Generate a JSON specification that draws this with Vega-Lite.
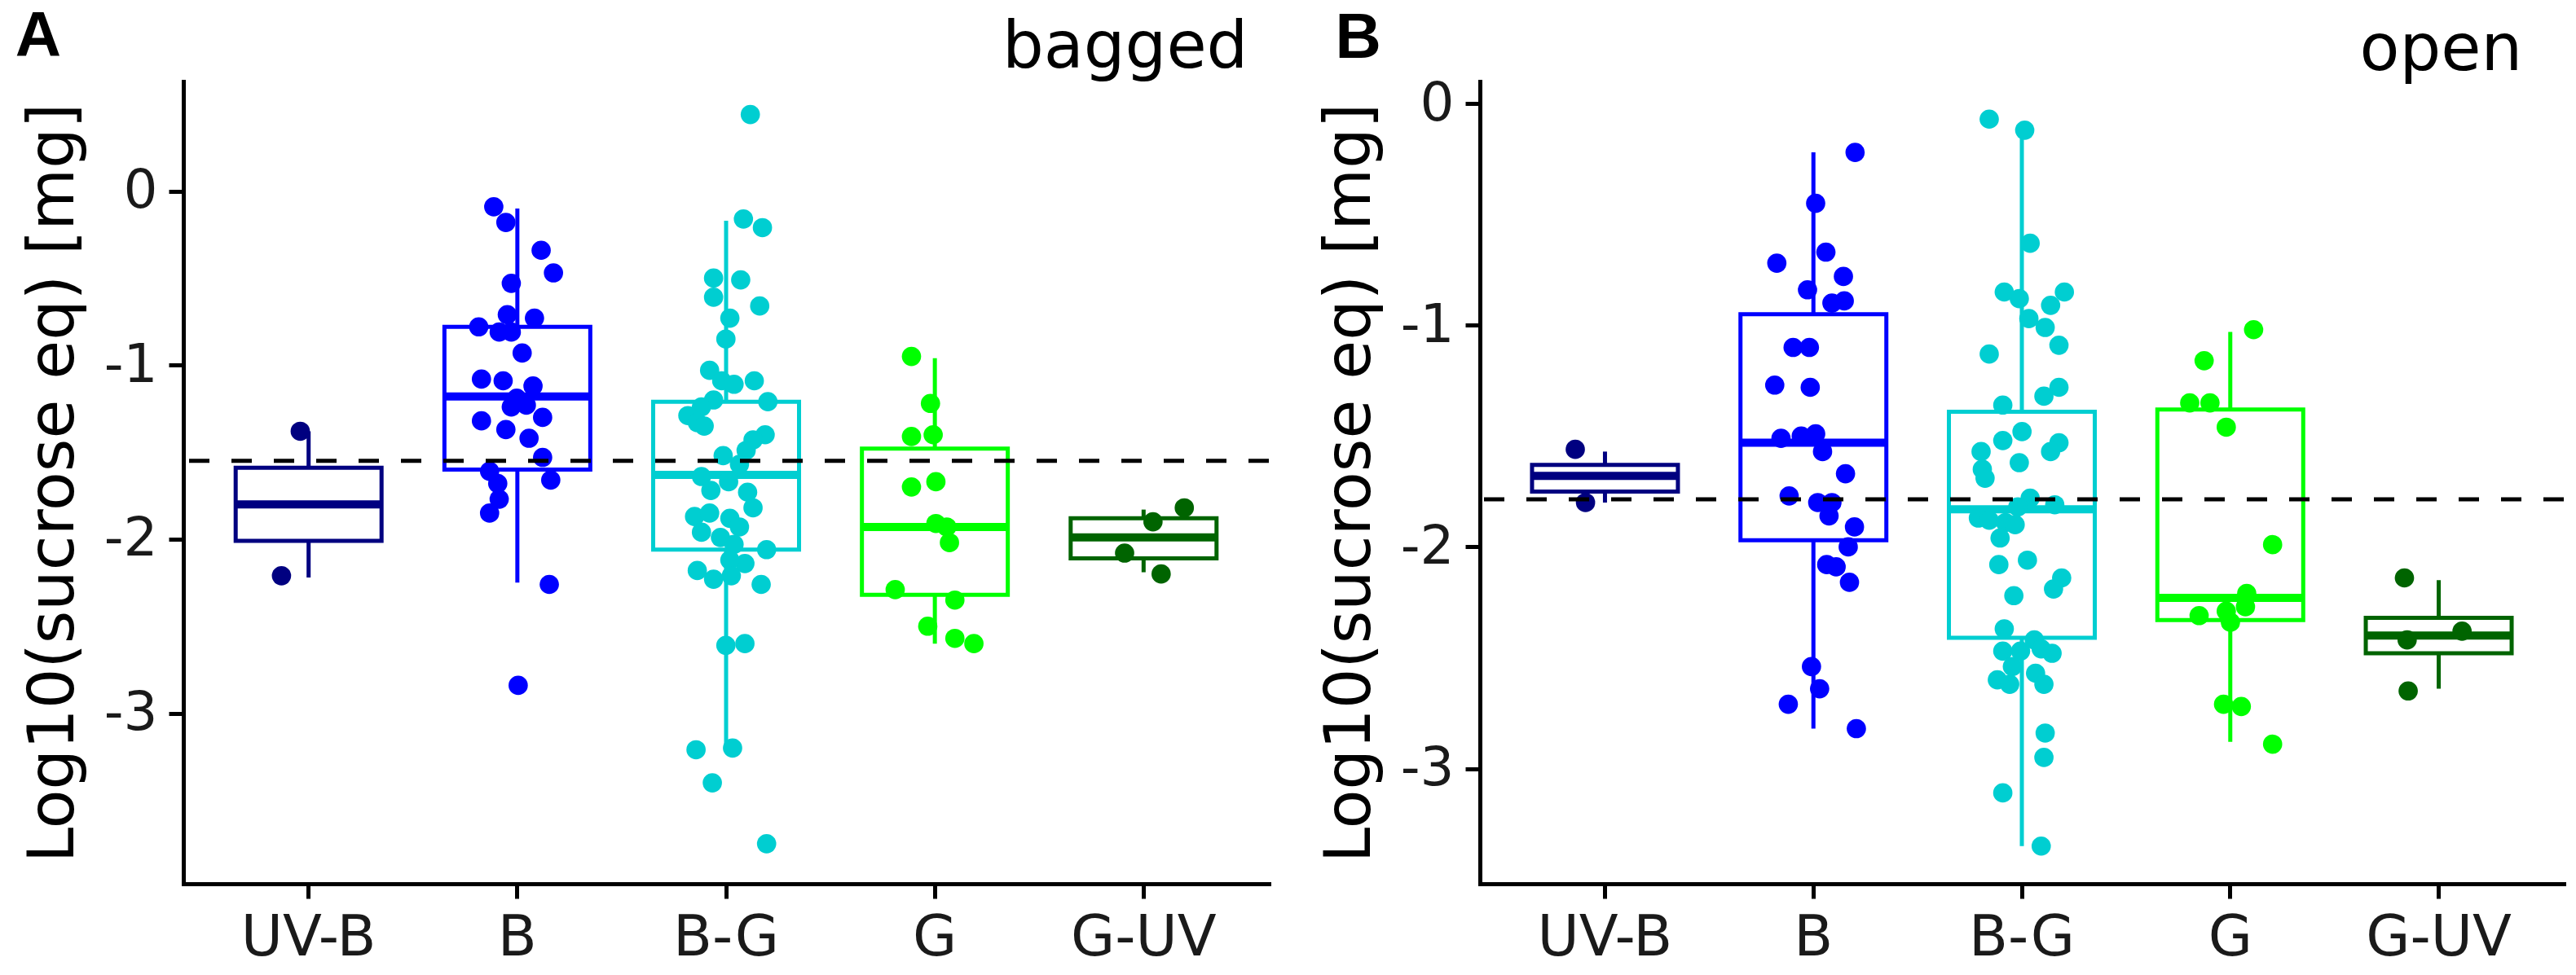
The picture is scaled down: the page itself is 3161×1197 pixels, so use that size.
{
  "$schema": "https://vega.github.io/schema/vega-lite/v6.json",
  "background": "white",
  "padding": {"left": 18, "top": 7, "right": 20, "bottom": 2},
  "spacing": 58,
  "config": {
    "font": "DejaVu Sans",
    "view": {"stroke": null},
    "axis": {
      "grid": false,
      "domainColor": "black",
      "domainWidth": 5,
      "domainCap": "square",
      "tickColor": "black",
      "tickWidth": 5,
      "tickSize": 18,
      "labelColor": "#1a1a1a",
      "labelFont": "DejaVu Sans",
      "labelLimit": 600,
      "titleFont": "DejaVu Sans",
      "titleColor": "black",
      "titleFontWeight": "normal"
    },
    "axisX": {"labelFontSize": 70, "labelPadding": 14, "labelAngle": 0},
    "axisY": {"labelFontSize": 66, "labelPadding": 14, "titleFontSize": 78, "titlePadding": 22}
  },
  "datasets": {
    "stats": [
      {"panel": "A", "group": "UV-B", "lo": -2.22, "q1": -2.01, "med": -1.80, "q3": -1.59, "hi": -1.38},
      {"panel": "A", "group": "B", "lo": -2.25, "q1": -1.60, "med": -1.18, "q3": -0.78, "hi": -0.10},
      {"panel": "A", "group": "B-G", "lo": -3.20, "q1": -2.06, "med": -1.63, "q3": -1.21, "hi": -0.17},
      {"panel": "A", "group": "G", "lo": -2.60, "q1": -2.32, "med": -1.93, "q3": -1.48, "hi": -0.96},
      {"panel": "A", "group": "G-UV", "lo": -2.19, "q1": -2.11, "med": -1.99, "q3": -1.88, "hi": -1.83},
      {"panel": "B", "group": "UV-B", "lo": -1.80, "q1": -1.75, "med": -1.68, "q3": -1.63, "hi": -1.57},
      {"panel": "B", "group": "B", "lo": -2.82, "q1": -1.97, "med": -1.53, "q3": -0.95, "hi": -0.22},
      {"panel": "B", "group": "B-G", "lo": -3.35, "q1": -2.41, "med": -1.83, "q3": -1.39, "hi": -0.12},
      {"panel": "B", "group": "G", "lo": -2.88, "q1": -2.33, "med": -2.23, "q3": -1.38, "hi": -1.03},
      {"panel": "B", "group": "G-UV", "lo": -2.64, "q1": -2.48, "med": -2.40, "q3": -2.32, "hi": -2.15}
    ],
    "points": [
      {"panel": "A", "group": "UV-B", "value": -1.38, "jitter": -0.04},
      {"panel": "A", "group": "UV-B", "value": -2.21, "jitter": -0.13},
      {"panel": "A", "group": "B", "value": -0.09, "jitter": -0.113},
      {"panel": "A", "group": "B", "value": -0.18, "jitter": -0.055},
      {"panel": "A", "group": "B", "value": -0.34, "jitter": 0.114},
      {"panel": "A", "group": "B", "value": -0.47, "jitter": 0.173},
      {"panel": "A", "group": "B", "value": -0.53, "jitter": -0.029},
      {"panel": "A", "group": "B", "value": -0.71, "jitter": -0.048},
      {"panel": "A", "group": "B", "value": -0.73, "jitter": 0.082},
      {"panel": "A", "group": "B", "value": -0.78, "jitter": -0.185},
      {"panel": "A", "group": "B", "value": -0.81, "jitter": -0.087},
      {"panel": "A", "group": "B", "value": -0.81, "jitter": -0.029},
      {"panel": "A", "group": "B", "value": -0.93, "jitter": 0.023},
      {"panel": "A", "group": "B", "value": -1.08, "jitter": -0.172},
      {"panel": "A", "group": "B", "value": -1.09, "jitter": -0.068},
      {"panel": "A", "group": "B", "value": -1.12, "jitter": 0.075},
      {"panel": "A", "group": "B", "value": -1.19, "jitter": -0.003},
      {"panel": "A", "group": "B", "value": -1.24, "jitter": -0.029},
      {"panel": "A", "group": "B", "value": -1.23, "jitter": 0.043},
      {"panel": "A", "group": "B", "value": -1.30, "jitter": 0.121},
      {"panel": "A", "group": "B", "value": -1.32, "jitter": -0.172},
      {"panel": "A", "group": "B", "value": -1.37, "jitter": -0.055},
      {"panel": "A", "group": "B", "value": -1.42, "jitter": 0.056},
      {"panel": "A", "group": "B", "value": -1.53, "jitter": 0.121},
      {"panel": "A", "group": "B", "value": -1.61, "jitter": -0.133},
      {"panel": "A", "group": "B", "value": -1.68, "jitter": -0.094},
      {"panel": "A", "group": "B", "value": -1.66, "jitter": 0.160},
      {"panel": "A", "group": "B", "value": -1.77, "jitter": -0.087},
      {"panel": "A", "group": "B", "value": -1.85, "jitter": -0.133},
      {"panel": "A", "group": "B", "value": -2.26, "jitter": 0.153},
      {"panel": "A", "group": "B", "value": -2.84, "jitter": 0.004},
      {"panel": "A", "group": "B-G", "value": 0.44, "jitter": 0.116},
      {"panel": "A", "group": "B-G", "value": -0.16, "jitter": 0.083},
      {"panel": "A", "group": "B-G", "value": -0.21, "jitter": 0.174},
      {"panel": "A", "group": "B-G", "value": -0.50, "jitter": -0.060},
      {"panel": "A", "group": "B-G", "value": -0.51, "jitter": 0.070},
      {"panel": "A", "group": "B-G", "value": -0.61, "jitter": -0.060},
      {"panel": "A", "group": "B-G", "value": -0.66, "jitter": 0.161},
      {"panel": "A", "group": "B-G", "value": -0.73, "jitter": 0.018},
      {"panel": "A", "group": "B-G", "value": -0.85, "jitter": -0.001},
      {"panel": "A", "group": "B-G", "value": -1.03, "jitter": -0.079},
      {"panel": "A", "group": "B-G", "value": -1.09, "jitter": -0.021},
      {"panel": "A", "group": "B-G", "value": -1.11, "jitter": 0.038},
      {"panel": "A", "group": "B-G", "value": -1.09, "jitter": 0.135},
      {"panel": "A", "group": "B-G", "value": -1.21, "jitter": 0.200},
      {"panel": "A", "group": "B-G", "value": -1.20, "jitter": -0.060},
      {"panel": "A", "group": "B-G", "value": -1.24, "jitter": -0.118},
      {"panel": "A", "group": "B-G", "value": -1.29, "jitter": -0.183},
      {"panel": "A", "group": "B-G", "value": -1.33, "jitter": -0.138},
      {"panel": "A", "group": "B-G", "value": -1.35, "jitter": -0.105},
      {"panel": "A", "group": "B-G", "value": -1.40, "jitter": 0.187},
      {"panel": "A", "group": "B-G", "value": -1.43, "jitter": 0.129},
      {"panel": "A", "group": "B-G", "value": -1.49, "jitter": 0.096},
      {"panel": "A", "group": "B-G", "value": -1.52, "jitter": -0.014},
      {"panel": "A", "group": "B-G", "value": -1.57, "jitter": 0.064},
      {"panel": "A", "group": "B-G", "value": -1.64, "jitter": -0.118},
      {"panel": "A", "group": "B-G", "value": -1.72, "jitter": -0.073},
      {"panel": "A", "group": "B-G", "value": -1.67, "jitter": 0.012},
      {"panel": "A", "group": "B-G", "value": -1.73, "jitter": 0.103},
      {"panel": "A", "group": "B-G", "value": -1.82, "jitter": 0.129},
      {"panel": "A", "group": "B-G", "value": -1.87, "jitter": -0.151},
      {"panel": "A", "group": "B-G", "value": -1.85, "jitter": -0.079},
      {"panel": "A", "group": "B-G", "value": -1.88, "jitter": 0.018},
      {"panel": "A", "group": "B-G", "value": -1.93, "jitter": 0.064},
      {"panel": "A", "group": "B-G", "value": -1.96, "jitter": -0.118},
      {"panel": "A", "group": "B-G", "value": -1.99, "jitter": -0.027},
      {"panel": "A", "group": "B-G", "value": -2.03, "jitter": 0.038},
      {"panel": "A", "group": "B-G", "value": -2.06, "jitter": 0.194},
      {"panel": "A", "group": "B-G", "value": -2.14, "jitter": 0.090},
      {"panel": "A", "group": "B-G", "value": -2.12, "jitter": 0.018},
      {"panel": "A", "group": "B-G", "value": -2.18, "jitter": -0.138},
      {"panel": "A", "group": "B-G", "value": -2.23, "jitter": -0.060},
      {"panel": "A", "group": "B-G", "value": -2.21, "jitter": 0.025},
      {"panel": "A", "group": "B-G", "value": -2.26, "jitter": 0.168},
      {"panel": "A", "group": "B-G", "value": -2.61, "jitter": -0.001},
      {"panel": "A", "group": "B-G", "value": -2.60, "jitter": 0.090},
      {"panel": "A", "group": "B-G", "value": -3.21, "jitter": -0.144},
      {"panel": "A", "group": "B-G", "value": -3.20, "jitter": 0.031},
      {"panel": "A", "group": "B-G", "value": -3.40, "jitter": -0.066},
      {"panel": "A", "group": "B-G", "value": -3.75, "jitter": 0.194},
      {"panel": "A", "group": "G", "value": -0.95, "jitter": -0.112},
      {"panel": "A", "group": "G", "value": -1.22, "jitter": -0.021},
      {"panel": "A", "group": "G", "value": -1.41, "jitter": -0.112},
      {"panel": "A", "group": "G", "value": -1.40, "jitter": -0.008},
      {"panel": "A", "group": "G", "value": -1.70, "jitter": -0.112},
      {"panel": "A", "group": "G", "value": -1.67, "jitter": 0.005},
      {"panel": "A", "group": "G", "value": -1.91, "jitter": 0.005},
      {"panel": "A", "group": "G", "value": -1.93, "jitter": 0.057},
      {"panel": "A", "group": "G", "value": -2.02, "jitter": 0.070},
      {"panel": "A", "group": "G", "value": -2.29, "jitter": -0.190},
      {"panel": "A", "group": "G", "value": -2.35, "jitter": 0.096},
      {"panel": "A", "group": "G", "value": -2.50, "jitter": -0.034},
      {"panel": "A", "group": "G", "value": -2.57, "jitter": 0.096},
      {"panel": "A", "group": "G", "value": -2.60, "jitter": 0.187},
      {"panel": "A", "group": "G-UV", "value": -1.82, "jitter": 0.195},
      {"panel": "A", "group": "G-UV", "value": -1.90, "jitter": 0.045},
      {"panel": "A", "group": "G-UV", "value": -2.08, "jitter": -0.091},
      {"panel": "A", "group": "G-UV", "value": -2.20, "jitter": 0.084},
      {"panel": "B", "group": "UV-B", "value": -1.56, "jitter": -0.143},
      {"panel": "B", "group": "UV-B", "value": -1.80, "jitter": -0.094},
      {"panel": "B", "group": "B", "value": -0.22, "jitter": 0.199},
      {"panel": "B", "group": "B", "value": -0.45, "jitter": 0.010},
      {"panel": "B", "group": "B", "value": -0.67, "jitter": 0.059},
      {"panel": "B", "group": "B", "value": -0.72, "jitter": -0.176},
      {"panel": "B", "group": "B", "value": -0.78, "jitter": 0.143},
      {"panel": "B", "group": "B", "value": -0.84, "jitter": -0.029},
      {"panel": "B", "group": "B", "value": -0.90, "jitter": 0.088},
      {"panel": "B", "group": "B", "value": -0.89, "jitter": 0.147},
      {"panel": "B", "group": "B", "value": -1.10, "jitter": -0.098},
      {"panel": "B", "group": "B", "value": -1.10, "jitter": -0.020},
      {"panel": "B", "group": "B", "value": -1.27, "jitter": -0.186},
      {"panel": "B", "group": "B", "value": -1.28, "jitter": -0.016},
      {"panel": "B", "group": "B", "value": -1.51, "jitter": -0.156},
      {"panel": "B", "group": "B", "value": -1.50, "jitter": -0.059},
      {"panel": "B", "group": "B", "value": -1.49, "jitter": 0.010},
      {"panel": "B", "group": "B", "value": -1.57, "jitter": 0.043},
      {"panel": "B", "group": "B", "value": -1.67, "jitter": 0.153},
      {"panel": "B", "group": "B", "value": -1.77, "jitter": -0.117},
      {"panel": "B", "group": "B", "value": -1.80, "jitter": 0.020},
      {"panel": "B", "group": "B", "value": -1.80, "jitter": 0.088},
      {"panel": "B", "group": "B", "value": -1.86, "jitter": 0.074},
      {"panel": "B", "group": "B", "value": -1.91, "jitter": 0.196},
      {"panel": "B", "group": "B", "value": -2.00, "jitter": 0.166},
      {"panel": "B", "group": "B", "value": -2.08, "jitter": 0.063},
      {"panel": "B", "group": "B", "value": -2.09, "jitter": 0.108},
      {"panel": "B", "group": "B", "value": -2.16, "jitter": 0.172},
      {"panel": "B", "group": "B", "value": -2.54, "jitter": -0.010},
      {"panel": "B", "group": "B", "value": -2.64, "jitter": 0.029},
      {"panel": "B", "group": "B", "value": -2.71, "jitter": -0.121},
      {"panel": "B", "group": "B", "value": -2.82, "jitter": 0.205},
      {"panel": "B", "group": "B-G", "value": -0.07, "jitter": -0.157},
      {"panel": "B", "group": "B-G", "value": -0.12, "jitter": 0.013},
      {"panel": "B", "group": "B-G", "value": -0.63, "jitter": 0.039},
      {"panel": "B", "group": "B-G", "value": -0.85, "jitter": -0.085},
      {"panel": "B", "group": "B-G", "value": -0.88, "jitter": -0.013},
      {"panel": "B", "group": "B-G", "value": -0.85, "jitter": 0.203},
      {"panel": "B", "group": "B-G", "value": -0.91, "jitter": 0.137},
      {"panel": "B", "group": "B-G", "value": -0.97, "jitter": 0.033},
      {"panel": "B", "group": "B-G", "value": -1.01, "jitter": 0.111},
      {"panel": "B", "group": "B-G", "value": -1.09, "jitter": 0.177},
      {"panel": "B", "group": "B-G", "value": -1.13, "jitter": -0.157},
      {"panel": "B", "group": "B-G", "value": -1.28, "jitter": 0.177},
      {"panel": "B", "group": "B-G", "value": -1.32, "jitter": 0.105},
      {"panel": "B", "group": "B-G", "value": -1.36, "jitter": -0.092},
      {"panel": "B", "group": "B-G", "value": -1.48, "jitter": 0.000},
      {"panel": "B", "group": "B-G", "value": -1.52, "jitter": -0.092},
      {"panel": "B", "group": "B-G", "value": -1.53, "jitter": 0.177},
      {"panel": "B", "group": "B-G", "value": -1.57, "jitter": 0.137},
      {"panel": "B", "group": "B-G", "value": -1.57, "jitter": -0.196},
      {"panel": "B", "group": "B-G", "value": -1.62, "jitter": -0.013},
      {"panel": "B", "group": "B-G", "value": -1.65, "jitter": -0.190},
      {"panel": "B", "group": "B-G", "value": -1.69, "jitter": -0.177},
      {"panel": "B", "group": "B-G", "value": -1.78, "jitter": 0.039},
      {"panel": "B", "group": "B-G", "value": -1.81, "jitter": 0.157},
      {"panel": "B", "group": "B-G", "value": -1.82, "jitter": -0.020},
      {"panel": "B", "group": "B-G", "value": -1.87, "jitter": -0.209},
      {"panel": "B", "group": "B-G", "value": -1.88, "jitter": -0.157},
      {"panel": "B", "group": "B-G", "value": -1.89, "jitter": -0.079},
      {"panel": "B", "group": "B-G", "value": -1.90, "jitter": -0.033},
      {"panel": "B", "group": "B-G", "value": -1.96, "jitter": -0.105},
      {"panel": "B", "group": "B-G", "value": -2.08, "jitter": -0.111},
      {"panel": "B", "group": "B-G", "value": -2.06, "jitter": 0.026},
      {"panel": "B", "group": "B-G", "value": -2.14, "jitter": 0.190},
      {"panel": "B", "group": "B-G", "value": -2.19, "jitter": 0.151},
      {"panel": "B", "group": "B-G", "value": -2.22, "jitter": -0.039},
      {"panel": "B", "group": "B-G", "value": -2.37, "jitter": -0.085},
      {"panel": "B", "group": "B-G", "value": -2.42, "jitter": 0.059},
      {"panel": "B", "group": "B-G", "value": -2.47, "jitter": -0.092},
      {"panel": "B", "group": "B-G", "value": -2.47, "jitter": -0.007},
      {"panel": "B", "group": "B-G", "value": -2.48, "jitter": 0.144},
      {"panel": "B", "group": "B-G", "value": -2.46, "jitter": 0.092},
      {"panel": "B", "group": "B-G", "value": -2.54, "jitter": -0.046},
      {"panel": "B", "group": "B-G", "value": -2.60, "jitter": -0.118},
      {"panel": "B", "group": "B-G", "value": -2.62, "jitter": -0.059},
      {"panel": "B", "group": "B-G", "value": -2.57, "jitter": 0.065},
      {"panel": "B", "group": "B-G", "value": -2.62, "jitter": 0.105},
      {"panel": "B", "group": "B-G", "value": -2.84, "jitter": 0.111},
      {"panel": "B", "group": "B-G", "value": -2.95, "jitter": 0.105},
      {"panel": "B", "group": "B-G", "value": -3.11, "jitter": -0.092},
      {"panel": "B", "group": "B-G", "value": -3.35, "jitter": 0.092},
      {"panel": "B", "group": "G", "value": -1.02, "jitter": 0.111},
      {"panel": "B", "group": "G", "value": -1.16, "jitter": -0.126},
      {"panel": "B", "group": "G", "value": -1.35, "jitter": -0.195},
      {"panel": "B", "group": "G", "value": -1.35, "jitter": -0.098},
      {"panel": "B", "group": "G", "value": -1.46, "jitter": -0.020},
      {"panel": "B", "group": "G", "value": -1.99, "jitter": 0.202},
      {"panel": "B", "group": "G", "value": -2.21, "jitter": 0.078},
      {"panel": "B", "group": "G", "value": -2.31, "jitter": -0.150},
      {"panel": "B", "group": "G", "value": -2.29, "jitter": -0.020},
      {"panel": "B", "group": "G", "value": -2.27, "jitter": 0.072},
      {"panel": "B", "group": "G", "value": -2.34, "jitter": 0.000},
      {"panel": "B", "group": "G", "value": -2.71, "jitter": -0.033},
      {"panel": "B", "group": "G", "value": -2.72, "jitter": 0.052},
      {"panel": "B", "group": "G", "value": -2.89, "jitter": 0.202},
      {"panel": "B", "group": "G-UV", "value": -2.14, "jitter": -0.165},
      {"panel": "B", "group": "G-UV", "value": -2.38, "jitter": 0.111},
      {"panel": "B", "group": "G-UV", "value": -2.42, "jitter": -0.152},
      {"panel": "B", "group": "G-UV", "value": -2.65, "jitter": -0.147}
    ]
  },
  "hconcat": [
    {
      "width": 1332,
      "height": 985,
      "layer": [
        {
          "data": {"name": "stats"},
          "transform": [{"filter": "datum.panel == 'A'"}],
          "mark": {"type": "rule", "strokeWidth": 5},
          "encoding": {
            "x": {"field": "group", "type": "nominal", "scale": {"domain": ["UV-B", "B", "B-G", "G", "G-UV"], "paddingInner": 0, "paddingOuter": 0.1}, "axis": {"title": null}},
            "y": {"field": "lo", "type": "quantitative", "scale": {"domain": [-3.98, 0.63], "nice": false, "zero": false}, "axis": {"values": [0, -1, -2, -3], "labelExpr": "datum.value == 0 ? '0' : '-' + abs(datum.value)"}, "title": "Log10(sucrose eq) [mg]"},
            "y2": {"field": "hi"},
            "color": {"field": "group", "type": "nominal", "scale": {"domain": ["UV-B", "B", "B-G", "G", "G-UV"], "range": ["#000080", "#0000FF", "#00CED1", "#00FF00", "#006400"]}, "legend": null}
          }
        },
        {
          "data": {"name": "stats"},
          "transform": [{"filter": "datum.panel == 'A'"}],
          "mark": {"type": "bar", "width": 179, "fill": "white", "strokeWidth": 5, "opacity": 1},
          "encoding": {
            "x": {"field": "group", "type": "nominal"},
            "y": {"field": "q1", "type": "quantitative", "title": "Log10(sucrose eq) [mg]"},
            "y2": {"field": "q3"},
            "stroke": {"field": "group", "type": "nominal", "scale": {"domain": ["UV-B", "B", "B-G", "G", "G-UV"], "range": ["#000080", "#0000FF", "#00CED1", "#00FF00", "#006400"]}, "legend": null}
          }
        },
        {
          "data": {"name": "stats"},
          "transform": [{"filter": "datum.panel == 'A'"}],
          "mark": {"type": "tick", "thickness": 10, "size": 180, "opacity": 1},
          "encoding": {
            "x": {"field": "group", "type": "nominal"},
            "y": {"field": "med", "type": "quantitative", "title": "Log10(sucrose eq) [mg]"},
            "color": {"field": "group", "type": "nominal", "legend": null}
          }
        },
        {
          "data": {"name": "points"},
          "transform": [{"filter": "datum.panel == 'A'"}],
          "mark": {"type": "circle", "size": 560, "opacity": 1},
          "encoding": {
            "x": {"field": "group", "type": "nominal"},
            "xOffset": {"field": "jitter", "type": "quantitative", "scale": {"domain": [-0.5, 0.5], "nice": false, "zero": false}},
            "y": {"field": "value", "type": "quantitative", "title": "Log10(sucrose eq) [mg]"},
            "color": {"field": "group", "type": "nominal", "legend": null}
          }
        },
        {
          "data": {"values": [{"ref": -1.55}]},
          "mark": {"type": "rule", "color": "black", "strokeWidth": 5, "strokeDash": [25, 27]},
          "encoding": {
            "y": {"field": "ref", "type": "quantitative", "title": "Log10(sucrose eq) [mg]"}
          }
        },
        {
          "data": {"values": [{"label": "bagged"}]},
          "mark": {"type": "text", "align": "right", "baseline": "alphabetic", "fontSize": 80, "color": "black"},
          "encoding": {
            "x": {"datum": "G-UV", "type": "nominal"},
            "xOffset": {"datum": 0.5, "type": "quantitative"},
            "y": {"datum": 0.709, "type": "quantitative"},
            "text": {"field": "label"}
          }
        },
        {
          "data": {"values": [{"label": "A"}]},
          "mark": {"type": "text", "align": "left", "baseline": "alphabetic", "fontSize": 78, "font": "Liberation Sans", "fontWeight": "bold", "color": "black"},
          "encoding": {
            "x": {"datum": "UV-B", "type": "nominal"},
            "xOffset": {"datum": -1.405, "type": "quantitative"},
            "y": {"datum": 0.775, "type": "quantitative"},
            "text": {"field": "label"}
          }
        }
      ]
    },
    {
      "width": 1330,
      "height": 985,
      "layer": [
        {
          "data": {"name": "stats"},
          "transform": [{"filter": "datum.panel == 'B'"}],
          "mark": {"type": "rule", "strokeWidth": 5},
          "encoding": {
            "x": {"field": "group", "type": "nominal", "scale": {"domain": ["UV-B", "B", "B-G", "G", "G-UV"], "paddingInner": 0, "paddingOuter": 0.1}, "axis": {"title": null}},
            "y": {"field": "lo", "type": "quantitative", "scale": {"domain": [-3.52, 0.1], "nice": false, "zero": false}, "axis": {"values": [0, -1, -2, -3], "labelExpr": "datum.value == 0 ? '0' : '-' + abs(datum.value)"}, "title": "Log10(sucrose eq) [mg]"},
            "y2": {"field": "hi"},
            "color": {"field": "group", "type": "nominal", "scale": {"domain": ["UV-B", "B", "B-G", "G", "G-UV"], "range": ["#000080", "#0000FF", "#00CED1", "#00FF00", "#006400"]}, "legend": null}
          }
        },
        {
          "data": {"name": "stats"},
          "transform": [{"filter": "datum.panel == 'B'"}],
          "mark": {"type": "bar", "width": 179, "fill": "white", "strokeWidth": 5, "opacity": 1},
          "encoding": {
            "x": {"field": "group", "type": "nominal"},
            "y": {"field": "q1", "type": "quantitative", "title": "Log10(sucrose eq) [mg]"},
            "y2": {"field": "q3"},
            "stroke": {"field": "group", "type": "nominal", "scale": {"domain": ["UV-B", "B", "B-G", "G", "G-UV"], "range": ["#000080", "#0000FF", "#00CED1", "#00FF00", "#006400"]}, "legend": null}
          }
        },
        {
          "data": {"name": "stats"},
          "transform": [{"filter": "datum.panel == 'B'"}],
          "mark": {"type": "tick", "thickness": 10, "size": 180, "opacity": 1},
          "encoding": {
            "x": {"field": "group", "type": "nominal"},
            "y": {"field": "med", "type": "quantitative", "title": "Log10(sucrose eq) [mg]"},
            "color": {"field": "group", "type": "nominal", "legend": null}
          }
        },
        {
          "data": {"name": "points"},
          "transform": [{"filter": "datum.panel == 'B'"}],
          "mark": {"type": "circle", "size": 560, "opacity": 1},
          "encoding": {
            "x": {"field": "group", "type": "nominal"},
            "xOffset": {"field": "jitter", "type": "quantitative", "scale": {"domain": [-0.5, 0.5], "nice": false, "zero": false}},
            "y": {"field": "value", "type": "quantitative", "title": "Log10(sucrose eq) [mg]"},
            "color": {"field": "group", "type": "nominal", "legend": null}
          }
        },
        {
          "data": {"values": [{"ref": -1.785}]},
          "mark": {"type": "rule", "color": "black", "strokeWidth": 5, "strokeDash": [25, 27]},
          "encoding": {
            "y": {"field": "ref", "type": "quantitative", "title": "Log10(sucrose eq) [mg]"}
          }
        },
        {
          "data": {"values": [{"label": "open"}]},
          "mark": {"type": "text", "align": "right", "baseline": "alphabetic", "fontSize": 80, "color": "black"},
          "encoding": {
            "x": {"datum": "G-UV", "type": "nominal"},
            "xOffset": {"datum": 0.4, "type": "quantitative"},
            "y": {"datum": 0.151, "type": "quantitative"},
            "text": {"field": "label"}
          }
        },
        {
          "data": {"values": [{"label": "B"}]},
          "mark": {"type": "text", "align": "left", "baseline": "alphabetic", "fontSize": 78, "font": "Liberation Sans", "fontWeight": "bold", "color": "black"},
          "encoding": {
            "x": {"datum": "UV-B", "type": "nominal"},
            "xOffset": {"datum": -1.293, "type": "quantitative"},
            "y": {"datum": 0.206, "type": "quantitative"},
            "text": {"field": "label"}
          }
        }
      ]
    }
  ]
}
